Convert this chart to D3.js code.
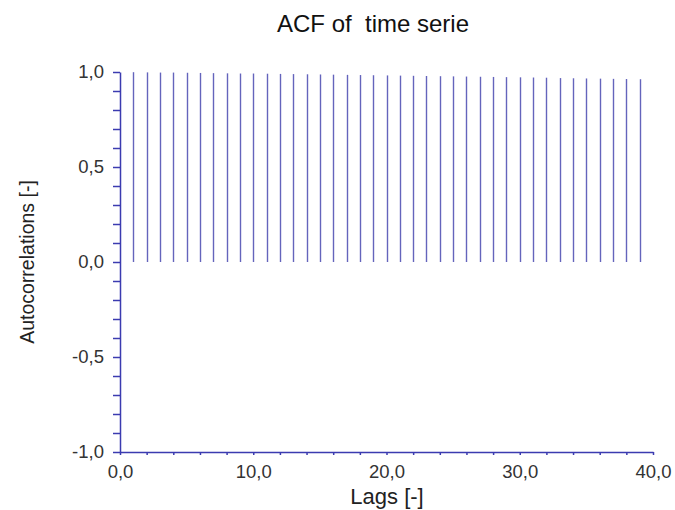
<!DOCTYPE html>
<html>
<head>
<meta charset="utf-8">
<script src="https://cdn.jsdelivr.net/npm/d3@7"></script>
<style>
  body { margin: 0; background: #fff; }
  svg text { font-family: "Liberation Sans", Arial, sans-serif; }
</style>
</head>
<body>
<svg id="chart"></svg>
<script>
// Lags and autocorrelation values
const lags = d3.range(1, 40);
const acfValues = [
  0.999, 0.998, 0.997, 0.997, 0.996, 0.995, 0.994, 0.993, 0.992, 0.992,
  0.991, 0.990, 0.989, 0.988, 0.987, 0.986, 0.985, 0.984, 0.983, 0.982,
  0.981, 0.980, 0.979, 0.978, 0.977, 0.976, 0.975, 0.974, 0.973, 0.972,
  0.971, 0.970, 0.968, 0.967, 0.966, 0.965, 0.964, 0.963, 0.962
];
const xTicks = d3.range(0, 41, 2);
const xLabels = [0, 10, 20, 30, 40];
const yTicks = d3.range(-10, 11).map(i => i / 10);
const yLabels = [-1, -0.5, 0, 0.5, 1];

const width = 675, height = 510;
const margin = {top: 72, right: 22, bottom: 58, left: 120};
const innerW = width - margin.left - margin.right;
const innerH = height - margin.top - margin.bottom;

const svg = d3.select('#chart')
  .attr('width', width)
  .attr('height', height);

const chart = svg.append('g')
  .attr('transform', `translate(${margin.left},${margin.top})`);

const xScale = d3.scaleLinear().domain([0, 40]).range([0, innerW]);
const yScale = d3.scaleLinear().domain([-1, 1]).range([innerH, 0]);

const fmt = v => d3.format('.1f')(v).replace('.', ',').replace('−', '-');
const axisColor = '#3b3bb0';

// Stems
chart.selectAll('.stem')
  .data(lags)
  .join('line')
  .attr('class', 'stem')
  .attr('x1', d => Math.round(xScale(d)) + 0.5)
  .attr('x2', d => Math.round(xScale(d)) + 0.5)
  .attr('y1', yScale(0))
  .attr('y2', (d, i) => yScale(acfValues[i]))
  .attr('stroke', '#6464bc')
  .attr('stroke-width', 1.4);

// Axes
const xAxis = d3.axisBottom(xScale)
  .tickValues(xTicks)
  .tickSize(3)
  .tickSizeOuter(0)
  .tickPadding(10)
  .tickFormat(d => xLabels.includes(d) ? fmt(d) : '');

const yAxis = d3.axisLeft(yScale)
  .tickValues(yTicks)
  .tickSize(7)
  .tickSizeOuter(0)
  .tickPadding(9)
  .tickFormat(d => yLabels.some(v => Math.abs(v - d) < 1e-9) ? fmt(d) : '');

const xAxisG = chart.append('g')
  .attr('transform', `translate(0,${innerH})`)
  .call(xAxis);

const yAxisG = chart.append('g').call(yAxis);

[xAxisG, yAxisG].forEach(g => {
  g.selectAll('path, line').attr('stroke', axisColor).attr('stroke-width', 1.5);
  g.selectAll('text')
    .attr('fill', '#333')
    .style('font-size', '18.5px')
    .style('font-family', '"Liberation Sans", Arial, sans-serif');
});

// Titles
svg.append('text')
  .attr('x', 373)
  .attr('y', 32)
  .attr('text-anchor', 'middle')
  .attr('fill', '#111')
  .style('font-size', '24px')
  .text('ACF of\u00a0 time serie');

svg.append('text')
  .attr('x', 387)
  .attr('y', 504)
  .attr('text-anchor', 'middle')
  .attr('fill', '#222')
  .style('font-size', '22px')
  .text('Lags [-]');

svg.append('text')
  .attr('transform', 'translate(34,262) rotate(-90)')
  .attr('text-anchor', 'middle')
  .attr('fill', '#222')
  .style('font-size', '19.5px')
  .text('Autocorrelations [-]');
</script>
</body>
</html>
